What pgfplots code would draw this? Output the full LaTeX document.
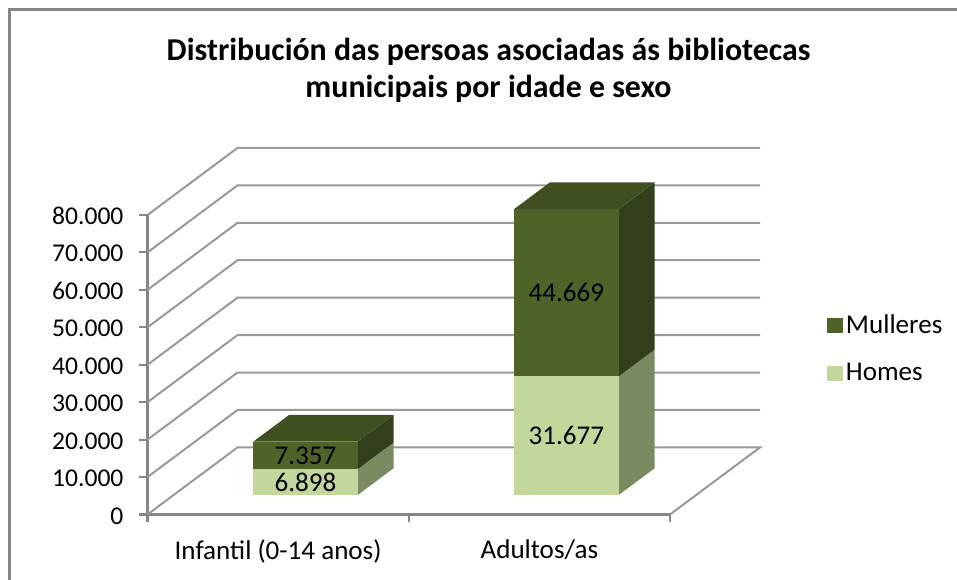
\documentclass[border=0pt]{standalone}
\usepackage{pgfplots}
\pgfplotsset{compat=1.18}
\usepackage{fontspec}
\setmainfont{Carlito}
\definecolor{gridc}{HTML}{999999}
\definecolor{axisc}{HTML}{868686}
\definecolor{mfront}{HTML}{4F6228}
\definecolor{mtop}{HTML}{3F4F20}
\definecolor{mside}{HTML}{333F1C}
\definecolor{hfront}{HTML}{C3D69B}
\definecolor{hside}{HTML}{7C8A62}
\newcommand{\fs}{\fontsize{20.3pt}{24pt}\selectfont}
\newcommand{\fy}{\fontsize{19.2pt}{24pt}\selectfont}
\begin{document}
\begin{tikzpicture}[x=0.75pt,y=0.75pt]
\useasboundingbox (-147.5,-65.5) rectangle (809.5,514.5);
\begin{axis}[
  at={(0,0)},anchor=origin,
  scale only axis,
  width=391.875pt,height=224.625pt,
  xmin=0,xmax=2,ymin=0,ymax=80000,
  clip=false,
  scaled y ticks=false,
  axis x line*=bottom,axis y line*=left,
  axis line style={draw=axisc,line width=1.8pt,-},
  tick style={draw=axisc,line width=1.6pt},
  tick align=outside,
  major tick length=6pt,
  xtick={0,1,2},xticklabels={},
  extra x ticks={0.5,1.5},
  extra x tick labels={Infantil (0-14 anos),Adultos/as},
  extra x tick style={tick style={draw=none},major tick length=0pt},
  ytick={0,10000,20000,30000,40000,50000,60000,70000,80000},
  yticklabels={0,{10.000},{20.000},{30.000},{40.000},{50.000},{60.000},{70.000},{80.000}},
  yticklabel style={font=\fy,xshift=-8.5pt,yshift=-1pt},
  xticklabel style={font=\fs,yshift=-15.5pt},
  legend style={draw=none,fill=none,font=\fs,at={(1.3005,0.553)},anchor=west,row sep=17pt,
    inner sep=0pt,/tikz/every even column/.append style={column sep=4.5pt}},
  legend cell align=left,
  legend image code/.code={\fill[#1] (0pt,-5.5pt) rectangle (12pt,5.5pt);},
]
% floor
\addplot[gridc,line width=1.5pt,forget plot] coordinates {(0,0)(0.3445,17914)(2.3445,17914)(2,0)};
% gridlines
\addplot[gridc,line width=1.5pt,forget plot] coordinates {(0,10000)(0.3445,27914)(2.3445,27914)};
\addplot[gridc,line width=1.5pt,forget plot] coordinates {(0,20000)(0.3445,37914)(2.3445,37914)};
\addplot[gridc,line width=1.5pt,forget plot] coordinates {(0,30000)(0.3445,47914)(2.3445,47914)};
\addplot[gridc,line width=1.5pt,forget plot] coordinates {(0,40000)(0.3445,57914)(2.3445,57914)};
\addplot[gridc,line width=1.5pt,forget plot] coordinates {(0,50000)(0.3445,67914)(2.3445,67914)};
\addplot[gridc,line width=1.5pt,forget plot] coordinates {(0,60000)(0.3445,77914)(2.3445,77914)};
\addplot[gridc,line width=1.5pt,forget plot] coordinates {(0,70000)(0.3445,87914)(2.3445,87914)};
\addplot[gridc,line width=1.5pt,forget plot] coordinates {(0,80000)(0.3445,97914)(2.3445,97914)};
% sides and tops
\addplot[fill=hside,draw=none,forget plot] coordinates {(0.8046,5214)(0.9424,12380)(0.9424,19278)(0.8046,12112)} -- cycle;
\addplot[fill=mside,draw=none,forget plot] coordinates {(0.8046,12112)(0.9424,19278)(0.9424,26635)(0.8046,19469)} -- cycle;
\addplot[fill=mtop,draw=none,forget plot] coordinates {(0.405,19469)(0.5428,26635)(0.9424,26635)(0.8046,19469)} -- cycle;
\addplot[fill=hside,draw=none,forget plot] coordinates {(1.8037,5214)(1.9415,12380)(1.9415,44057)(1.8037,36891)} -- cycle;
\addplot[fill=mside,draw=none,forget plot] coordinates {(1.8037,36891)(1.9415,44057)(1.9415,88726)(1.8037,81560)} -- cycle;
\addplot[fill=mtop,draw=none,forget plot] coordinates {(1.403,81560)(1.5408,88726)(1.9415,88726)(1.8037,81560)} -- cycle;
% fronts
\addplot[fill=mfront,draw=none] coordinates {(0.405,12112)(0.405,19469)(0.8046,19469)(0.8046,12112)} -- cycle;
\addlegendentry{Mulleres}
\addplot[fill=hfront,draw=none] coordinates {(0.405,5214)(0.405,12112)(0.8046,12112)(0.8046,5214)} -- cycle;
\addlegendentry{Homes}
\addplot[fill=mfront,draw=none,forget plot] coordinates {(1.403,36891)(1.403,81560)(1.8037,81560)(1.8037,36891)} -- cycle;
\addplot[fill=hfront,draw=none,forget plot] coordinates {(1.403,5214)(1.403,36891)(1.8037,36891)(1.8037,5214)} -- cycle;
% labels
\node[font=\fs] at (axis cs:0.605,15790) {7.357};
\node[font=\fs] at (axis cs:0.605,8663) {6.898};
\node[font=\fs] at (axis cs:1.603,59225) {44.669};
\node[font=\fs] at (axis cs:1.603,21052) {31.677};
\end{axis}
% title
\node[font=\fontsize{23.9pt}{27.75pt}\selectfont\bfseries,align=center] at (341,444) {Distribución das persoas asociadas ás bibliotecas\\municipais por idade e sexo};
% frame
\draw[axisc,line width=2.25pt] (-138,-70) -- (-138,505) -- (815,505);
\end{tikzpicture}
\end{document}
